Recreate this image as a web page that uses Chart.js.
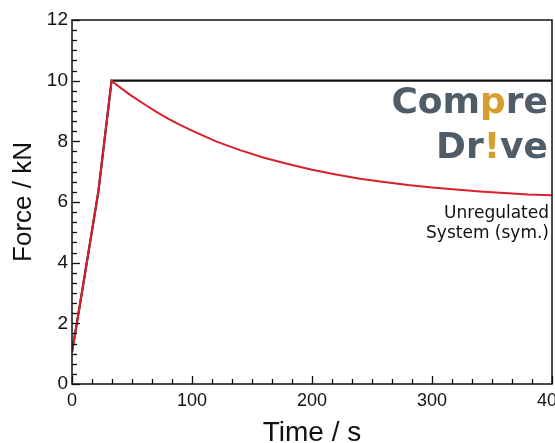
<!DOCTYPE html>
<html>
<head>
<meta charset="utf-8">
<script src="https://cdn.jsdelivr.net/npm/chart.js@4.4.1/dist/chart.umd.min.js"></script>
<style>
  html, body { margin: 0; padding: 0; background: #fff; }
  #wrap { width: 555px; height: 443px; position: relative; }
</style>
</head>
<body>
<div id="wrap"><canvas id="forceChart"></canvas></div>
<script>
// setpoint (black) and unregulated system force (red), time in s, force in kN
var setpointTime  = [0, 8, 22, 33, 400];
var setpointForce = [1.05, 2.95, 6.35, 10, 10];

var unregTime  = [0, 8, 22, 33, 36, 40, 45, 50, 60, 70, 80, 90, 100, 120, 140, 160, 180, 200, 220, 240, 260, 280, 300, 320, 340, 360, 380, 400];
var unregForce = [1.05, 2.95, 6.35, 10, 9.9, 9.78, 9.63, 9.49, 9.23, 8.98, 8.75, 8.54, 8.35, 8.0, 7.71, 7.46, 7.25, 7.06, 6.91, 6.77, 6.66, 6.56, 6.48, 6.41, 6.35, 6.3, 6.25, 6.22];

var xTicks = [0, 100, 200, 300, 400];
var yTicks = [0, 2, 4, 6, 8, 10, 12];

function toPoints(xs, ys) {
    return xs.map(function (x, i) { return { x: x, y: ys[i] }; });
}

// inward ticks (major + 5 minor between), plot frame, logo and label
var frameTicks = {
    id: 'frameTicks',
    afterDatasetsDraw: function (chart) {
        var ctx = chart.ctx, a = chart.chartArea;
        var xs = chart.scales.x, ys = chart.scales.y;
        ctx.save();
        ctx.strokeStyle = '#111';
        ctx.lineWidth = 1.5;
        ctx.strokeRect(a.left, a.top, a.right - a.left, a.bottom - a.top);
        ctx.lineWidth = 1.3;
        for (var i = 0; i < xTicks.length; i++) {
            for (var k = 0; k < 6; k++) {
                var v = xTicks[i] + k * (xTicks[1] - xTicks[0]) / 6;
                if (v > xs.max + 0.01) break;
                var px = Math.round(xs.getPixelForValue(v)) + 0.5;
                ctx.beginPath();
                ctx.moveTo(px, a.bottom);
                ctx.lineTo(px, a.bottom - (k === 0 ? 8 : 5));
                ctx.stroke();
            }
        }
        for (var j = 0; j < yTicks.length; j++) {
            for (var m = 0; m < 6; m++) {
                var w = yTicks[j] + m * (yTicks[1] - yTicks[0]) / 6;
                if (w > ys.max + 0.01) break;
                var py = Math.round(ys.getPixelForValue(w)) + 0.5;
                ctx.beginPath();
                ctx.moveTo(a.left, py);
                ctx.lineTo(a.left + (m === 0 ? 8 : 5), py);
                ctx.stroke();
            }
        }
        ctx.restore();
    },
    afterDraw: function (chart) {
        var ctx = chart.ctx;
        var grey = '#505c67', gold = '#d69e2e';
        ctx.save();
        ctx.textBaseline = 'alphabetic';
        ctx.font = 'bold 36px "DejaVu Sans"';
        var right = 548;
        var parts1 = [['Com', grey], ['p', gold], ['re', grey]];
        var parts2 = [['Dr', grey], ['!', gold], ['ve', grey]];
        [[parts1, 113], [parts2, 158]].forEach(function (line) {
            var total = 0;
            line[0].forEach(function (p) { total += ctx.measureText(p[0]).width; });
            var x = right - total;
            line[0].forEach(function (p) {
                ctx.fillStyle = p[1];
                ctx.fillText(p[0], x, line[1]);
                x += ctx.measureText(p[0]).width;
            });
        });
        ctx.fillStyle = '#111';
        ctx.textAlign = 'right';
        ctx.font = '17px "DejaVu Sans"';
        ctx.fillText('Unregulated', 549, 218);
        ctx.fillText('System (sym.)', 549, 238);
        ctx.restore();
    }
};

new Chart(document.getElementById('forceChart'), {
    type: 'scatter',
    data: {
        datasets: [{
            label: 'Setpoint',
            data: toPoints(setpointTime, setpointForce),
            showLine: true,
            borderColor: '#111',
            borderWidth: 2.2,
            pointRadius: 0,
            order: 2
        }, {
            label: 'Unregulated System (sym.)',
            data: toPoints(unregTime, unregForce),
            showLine: true,
            borderColor: '#d9202c',
            borderWidth: 2,
            tension: 0,
            pointRadius: 0,
            order: 1
        }]
    },
    options: {
        responsive: true,
        maintainAspectRatio: false,
        animation: false,
        layout: { padding: { top: 20, right: 3, left: 0, bottom: 0 } },
        plugins: {
            legend: { display: false },
            tooltip: { enabled: false }
        },
        scales: {
            x: {
                type: 'linear',
                min: 0,
                max: 400,
                afterBuildTicks: function (s) { s.ticks = xTicks.map(function (v) { return { value: v }; }); },
                afterFit: function (s) { s.height = 59; s.paddingLeft = 0; s.paddingRight = 0; },
                grid: { display: false, drawTicks: false },
                border: { display: false },
                ticks: {
                    color: '#111',
                    padding: 6,
                    font: { family: '"Liberation Sans", Arial', size: 18 }
                },
                title: {
                    display: true,
                    text: 'Time / s',
                    color: '#111',
                    padding: { top: 0, bottom: -4 },
                    font: { family: '"Liberation Sans", Arial', size: 28, lineHeight: 1 }
                }
            },
            y: {
                type: 'linear',
                min: 0,
                max: 12,
                afterBuildTicks: function (s) { s.ticks = yTicks.map(function (v) { return { value: v }; }); },
                afterFit: function (s) { s.width = 72; s.paddingTop = 0; s.paddingBottom = 0; },
                grid: { display: false, drawTicks: false },
                border: { display: false },
                ticks: {
                    color: '#111',
                    padding: 4,
                    font: { family: '"Liberation Sans", Arial', size: 19 }
                },
                title: {
                    display: true,
                    text: 'Force / kN',
                    color: '#111',
                    padding: { top: 11, bottom: 0 },
                    font: { family: '"Liberation Sans", Arial', size: 26, lineHeight: 1 }
                }
            }
        }
    },
    plugins: [frameTicks]
});
</script>
</body>
</html>
